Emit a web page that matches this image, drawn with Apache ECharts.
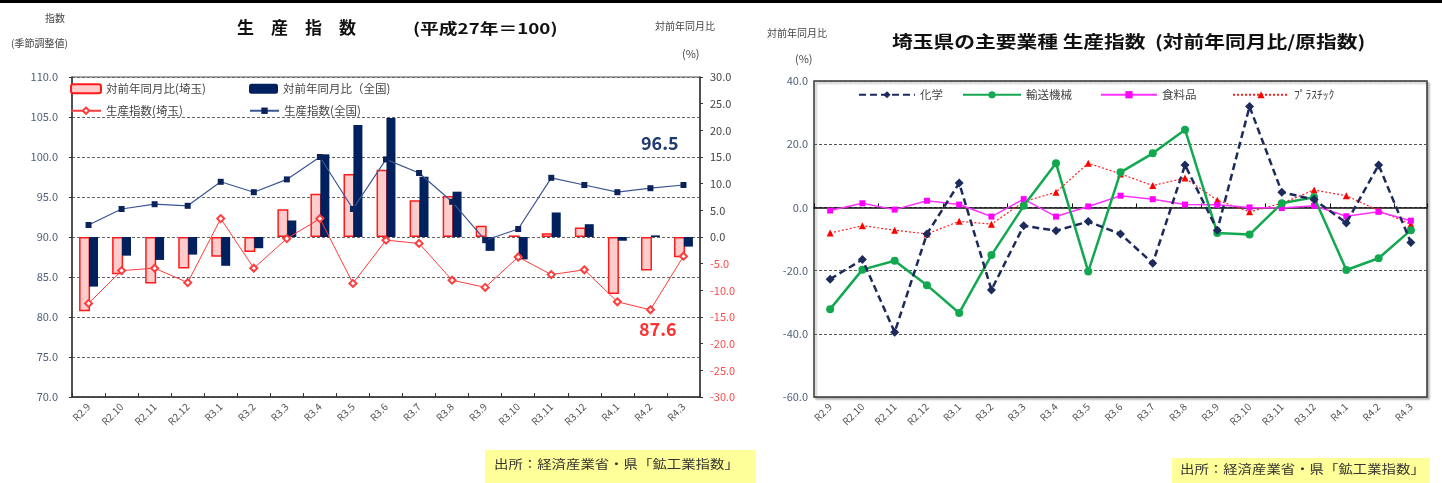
<!DOCTYPE html>
<html><head><meta charset="utf-8">
<script src="https://cdn.jsdelivr.net/npm/echarts@6/dist/echarts.min.js"></script>
<style>html,body{margin:0;padding:0;background:#fff}#c{width:1442px;height:483px}</style>
</head><body><div id="c"></div>
<script>
const categories = ['R2.9','R2.10','R2.11','R2.12','R3.1','R3.2','R3.3','R3.4','R3.5','R3.6','R3.7','R3.8','R3.9','R3.10','R3.11','R3.12','R4.1','R4.2','R4.3'];
// left chart
const saitamaYoY   = [-13.9,-7.0,-8.7,-5.9,-3.7,-2.8,5.2,8.1,11.8,12.6,6.9,7.7,2.1,0.3,0.7,1.8,-10.7,-6.3,-3.8];
const nationalYoY  = [-9.3,-3.5,-4.3,-3.3,-5.4,-2.1,3.1,15.5,21.0,22.3,11.3,8.5,-2.6,-4.2,4.6,2.4,-0.7,0.3,-1.8];
const saitamaIndex = [81.7,85.8,86.1,84.3,92.3,86.1,89.8,92.3,84.2,89.6,89.2,84.6,83.7,87.5,85.3,85.9,81.9,80.9,87.6];
const nationalIndex= [91.5,93.5,94.1,93.9,96.9,95.6,97.2,100.0,93.5,99.7,98.0,94.4,89.6,91.0,97.4,96.5,95.6,96.1,96.5];
// right chart
const chemical  = [-22.7,-16.5,-39.5,-8.4,7.7,-26.1,-5.8,-7.4,-4.5,-8.4,-17.7,13.4,-7.2,31.9,4.8,2.5,-4.9,13.4,-11.1];
const transport = [-32.2,-19.7,-16.9,-24.6,-33.4,-15.1,0.5,14.0,-20.3,11.1,17.1,24.6,-8.1,-8.6,1.3,3.2,-19.8,-16.1,-7.2];
const food      = [-1.0,1.3,-0.7,2.1,0.9,-2.9,2.6,-2.9,0.3,3.7,2.6,0.9,0.8,0.0,-0.2,0.5,-2.8,-1.4,-4.2];
const plastic   = [-8.1,-5.8,-7.2,-8.4,-4.4,-5.3,1.8,4.8,14.0,10.6,6.9,9.3,2.3,-1.4,1.3,5.5,3.7,-1.0,-5.3];
const lastSaitama = '87.6';
const lastNational = '96.5';

const FONT = '"Noto Sans CJK JP", "Noto Sans", sans-serif';
const chart = echarts.init(document.getElementById('c'));

function legendItem(name, left, top, w, h) {
  return { data: [name], left: left, top: top, itemWidth: w, itemHeight: h, itemGap: 5, padding: 0,
    textStyle: { fontFamily: FONT, fontSize: 11.5, color: '#444' }, selectedMode: false };
}

const option = {
  animation: false,
  textStyle: { fontFamily: FONT },
  grid: [
    { left: 72, top: 77, width: 628, height: 320, show: true, borderColor: '#555', borderWidth: 1, backgroundColor: '#fff' },
    { left: 814, top: 81, width: 613, height: 316, show: true, borderColor: '#333', borderWidth: 1.5, backgroundColor: '#fff',
      shadowColor: 'rgba(0,0,0,0.25)', shadowOffsetX: 2, shadowOffsetY: 2, shadowBlur: 2 }
  ],
  legend: [
    legendItem('対前年同月比(埼玉)', 70, 83, 30, 9),
    legendItem('対前年同月比（全国)', 249, 83, 29, 10),
    legendItem('生産指数(埼玉)', 70, 105, 30, 8),
    legendItem('生産指数(全国)', 249, 105, 29, 8),
    legendItem('化学', 858, 89, 56, 9),
    legendItem('輸送機械', 962, 89, 58, 9),
    legendItem('食料品', 1100, 89, 56, 9),
    legendItem('ﾌﾟﾗｽﾁｯｸ', 1232, 89, 56, 9)
  ],
  xAxis: [
    { type: 'category', gridIndex: 0, data: categories, position: 'bottom',
      axisLine: { onZero: false, lineStyle: { color: '#333', width: 1.5 } },
      axisTick: { show: true, inside: true, length: 4, lineStyle: { color: '#333' } },
      axisLabel: { rotate: 45, fontSize: 10, color: '#555', margin: 8, interval: 0 } },
    { type: 'category', gridIndex: 1, data: categories, position: 'bottom',
      axisLine: { show: false, onZero: false }, axisTick: { show: false },
      axisLabel: { rotate: 45, fontSize: 10, color: '#555', margin: 8, interval: 0 } },
    { type: 'category', gridIndex: 1, data: categories, position: 'top',
      axisLine: { show: true, onZero: true, lineStyle: { color: '#111', width: 1.5 } },
      axisTick: { show: true, inside: false, length: 4, lineStyle: { color: '#111' } },
      axisLabel: { show: false } }
  ],
  yAxis: [
    { type: 'value', gridIndex: 0, min: 70, max: 110, interval: 5, position: 'left',
      axisLine: { show: true, lineStyle: { color: '#333', width: 1.5 } },
      axisTick: { show: true, length: 3, lineStyle: { color: '#333' } },
      axisLabel: { fontSize: 11, color: '#50607a', margin: 14, formatter: v => v.toFixed(1) },
      splitLine: { show: true, lineStyle: { color: '#666', type: [3, 2], width: 1 } } },
    { type: 'value', gridIndex: 0, min: -30, max: 30, interval: 5, position: 'right',
      axisLine: { show: true, lineStyle: { color: '#333', width: 1.5 } },
      axisTick: { show: true, length: 3, lineStyle: { color: '#333' } },
      axisLabel: { fontSize: 11, margin: 10,
        formatter: v => (v < 0 ? '{n|' : '{p|') + v.toFixed(1) + '}',
        rich: { n: { color: '#ff4a4a', fontSize: 11 }, p: { color: '#444', fontSize: 11 } } },
      splitLine: { show: false } },
    { type: 'value', gridIndex: 1, min: -60, max: 40, interval: 20,
      axisLine: { show: false }, axisTick: { show: false },
      axisLabel: { fontSize: 11, color: '#50607a', margin: 6, formatter: v => v.toFixed(1) },
      splitLine: { show: true, lineStyle: { color: '#555', type: [3, 2], width: 1 } } }
  ],
  series: [
    { name: '対前年同月比(埼玉)', type: 'bar', xAxisIndex: 0, yAxisIndex: 1, data: saitamaYoY,
      barWidth: 11, barGap: '-10%', z: 2,
      itemStyle: { color: '#ffcccc', borderColor: '#ff1a1a', borderWidth: 1.5 } },
    { name: '対前年同月比（全国)', type: 'bar', xAxisIndex: 0, yAxisIndex: 1, data: nationalYoY,
      barWidth: 9, z: 2, itemStyle: { color: '#00205e' } },
    { name: '生産指数(埼玉)', type: 'line', xAxisIndex: 0, yAxisIndex: 0, data: saitamaIndex, z: 4,
      symbol: 'emptyDiamond', symbolSize: 7,
      lineStyle: { color: '#ff3b3b', width: 1 }, itemStyle: { color: '#ff3b3b', borderWidth: 1 } },
    { name: '生産指数(全国)', type: 'line', xAxisIndex: 0, yAxisIndex: 0, data: nationalIndex, z: 4,
      symbol: 'rect', symbolSize: 6,
      lineStyle: { color: '#3a5592', width: 1.2 }, itemStyle: { color: '#0b2358' } },
    { name: 'ﾌﾟﾗｽﾁｯｸ', type: 'line', xAxisIndex: 1, yAxisIndex: 2, data: plastic, z: 3,
      symbol: 'triangle', symbolSize: 7,
      lineStyle: { color: '#ff2020', width: 1.2, type: [2, 2] }, itemStyle: { color: '#ff0000' } },
    { name: '食料品', type: 'line', xAxisIndex: 1, yAxisIndex: 2, data: food, z: 3,
      symbol: 'rect', symbolSize: 6,
      lineStyle: { color: '#ff33ff', width: 1.5 }, itemStyle: { color: '#ff00ff' } },
    { name: '輸送機械', type: 'line', xAxisIndex: 1, yAxisIndex: 2, data: transport, z: 4,
      symbol: 'circle', symbolSize: 8,
      lineStyle: { color: '#12a850', width: 2.5 }, itemStyle: { color: '#12a850' } },
    { name: '化学', type: 'line', xAxisIndex: 1, yAxisIndex: 2, data: chemical, z: 5,
      symbol: 'diamond', symbolSize: 9,
      lineStyle: { color: '#1c2a5c', width: 2.5, type: [7, 4] }, itemStyle: { color: '#1c2a5c' } }
  ],
  graphic: [
    { type: 'rect', left: 0, top: 0, shape: { width: 1442, height: 3 }, style: { fill: '#000' }, z: 10 },
    // left chart texts
    { type: 'text', left: 45, top: 13, style: { text: '指数', font: '10px ' + FONT, fill: '#444' } },
    { type: 'text', left: 11, top: 38, style: { text: '(季節調整値)', font: '10px ' + FONT, fill: '#444' } },
    { type: 'text', left: 237, top: 19, style: { text: '生　産　指　数', font: 'bold 17px ' + FONT, fill: '#111' } },
    { type: 'text', x: 413, y: 21, scaleX: 1.25, style: { text: '(平成27年＝100)', font: 'bold 15px ' + FONT, fill: '#111' } },
    { type: 'text', left: 655, top: 21, style: { text: '対前年同月比', font: '10px ' + FONT, fill: '#444' } },
    { type: 'text', left: 682, top: 48, style: { text: '(%)', font: '11px ' + FONT, fill: '#444' } },
    { type: 'text', left: 641, top: 134, style: { text: lastNational, font: 'bold 18px ' + FONT, fill: '#1f3a70' } },
    { type: 'text', left: 639, top: 320, style: { text: lastSaitama, font: 'bold 18px ' + FONT, fill: '#ff3030' } },
    { type: 'rect', left: 485, top: 450, shape: { width: 271, height: 33 }, style: { fill: '#ffff99' } },
    { type: 'text', x: 494, y: 458, scaleX: 1.2, style: { text: '出所：経済産業省・県「鉱工業指数」', font: '12px ' + FONT, fill: '#333' } },
    // right chart texts
    { type: 'text', left: 767, top: 28, style: { text: '対前年同月比', font: '10px ' + FONT, fill: '#444' } },
    { type: 'text', left: 795, top: 53, style: { text: '(%)', font: '11px ' + FONT, fill: '#444' } },
    { type: 'text', x: 892, y: 33, scaleX: 1.22, style: { text: '埼玉県の主要業種 生産指数  (対前年同月比/原指数)', font: 'bold 17px ' + FONT, fill: '#111' } },
    { type: 'rect', left: 1172, top: 458, shape: { width: 258, height: 25 }, style: { fill: '#ffff99' } },
    { type: 'text', x: 1180, y: 463, scaleX: 1.2, style: { text: '出所：経済産業省・県「鉱工業指数」', font: '12px ' + FONT, fill: '#333' } }
  ]
};
chart.setOption(option);
</script></body></html>
